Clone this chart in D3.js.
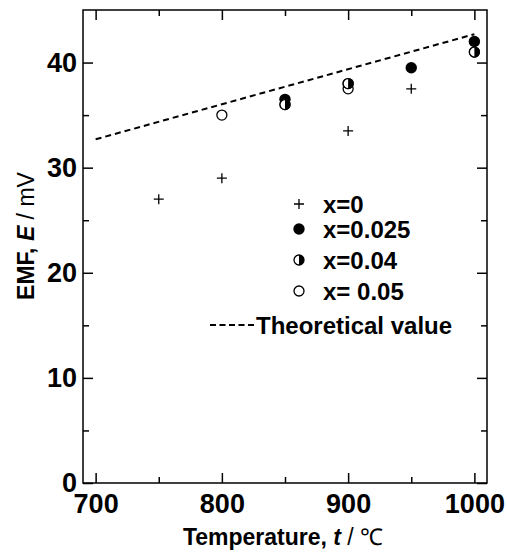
<!DOCTYPE html>
<html>
<head>
<meta charset="UTF-8">
<script src="https://d3js.org/d3.v7.min.js"></script>
<style>
  body { margin: 0; background: #fff; }
  svg { font-family: Arial, "Liberation Sans", sans-serif; }
  .axis path, .axis line { stroke: #000; stroke-width: 1.5; }
  .axis text { font-size: 27px; font-weight: bold; fill: #000; }
</style>
</head>
<body>
<div id="chart"></div>
<script>
// data
const tempX0 = [750, 800, 900, 950];
const emfX0 = [27, 29, 33.5, 37.5];
const tempX025 = [850, 900, 950, 1000];
const emfX025 = [36.5, 38, 39.5, 42];
const tempX04 = [850, 900, 1000];
const emfX04 = [36, 38, 41];
const tempX05 = [800, 850, 900, 1000];
const emfX05 = [35, 36, 37.5, 41];
const tempTheory = [700, 1000];
const emfTheory = [32.7, 42.7];
const xTicks = [700, 800, 900, 1000];
const xMinor = [750, 850, 950];
const yTicks = [0, 10, 20, 30, 40];
const yMinor = [5, 15, 25, 35];

const W = 507, H = 553;
const margin = {top: 10, right: 20, bottom: 70, left: 83};
const width = W - margin.left - margin.right,
      height = H - margin.top - margin.bottom;

const svg = d3.select("#chart").append("svg")
    .attr("width", W).attr("height", H);
const g = svg.append("g")
    .attr("transform", `translate(${margin.left},${margin.top})`);

const x = d3.scaleLinear().domain([690, 1010]).range([0, width]);
const y = d3.scaleLinear().domain([0, 45]).range([height, 0]);

// frame
g.append("rect").attr("width", width).attr("height", height)
    .attr("fill", "none").attr("stroke", "#000").attr("stroke-width", 1.5);

// axes, ticks pointing inward
function addAxis(axis, transform) {
    const a = g.append("g").attr("class", "axis").attr("transform", transform || null).call(axis);
    a.select(".domain").remove();
    return a;
}
addAxis(d3.axisBottom(x).tickValues(xTicks).tickSize(-10).tickPadding(11).tickFormat(d3.format("d")), `translate(0,${height})`);
addAxis(d3.axisBottom(x).tickValues(xMinor).tickSize(-6).tickFormat(""), `translate(0,${height})`);
addAxis(d3.axisTop(x).tickValues(xTicks).tickSize(-10).tickFormat(""));
addAxis(d3.axisTop(x).tickValues(xMinor).tickSize(-6).tickFormat(""));
addAxis(d3.axisLeft(y).tickValues(yTicks).tickSize(-10).tickPadding(6));
addAxis(d3.axisLeft(y).tickValues(yMinor).tickSize(-6).tickFormat(""));
addAxis(d3.axisRight(y).tickValues(yTicks).tickSize(-10).tickFormat(""), `translate(${width},0)`);
addAxis(d3.axisRight(y).tickValues(yMinor).tickSize(-6).tickFormat(""), `translate(${width},0)`);

// theoretical line
const line = d3.line().x(d => x(d[0])).y(d => y(d[1]));
g.append("path")
    .datum(d3.zip(tempTheory, emfTheory))
    .attr("d", line)
    .attr("fill", "none").attr("stroke", "#000")
    .attr("stroke-width", 2).attr("stroke-dasharray", "6,4");

// marker helpers
function plus(sel, cx, cy) {
    sel.append("path")
        .attr("d", `M${cx - 5},${cy}H${cx + 5}M${cx},${cy - 5}V${cy + 5}`)
        .attr("stroke", "#000").attr("stroke-width", 1.3);
}
function filled(sel, cx, cy) {
    sel.append("circle").attr("cx", cx).attr("cy", cy).attr("r", 5.7).attr("fill", "#000");
}
function open(sel, cx, cy) {
    sel.append("circle").attr("cx", cx).attr("cy", cy).attr("r", 5)
        .attr("fill", "#fff").attr("stroke", "#000").attr("stroke-width", 1.3);
}
function half(sel, cx, cy) {
    open(sel, cx, cy);
    sel.append("path")
        .attr("d", `M${cx},${cy - 5}A5,5 0 0 1 ${cx},${cy + 5}Z`)
        .attr("fill", "#000");
}

const pts = g.append("g");
d3.zip(tempX0, emfX0).forEach(d => plus(pts, x(d[0]), y(d[1])));
d3.zip(tempX05, emfX05).forEach(d => open(pts, x(d[0]), y(d[1])));
d3.zip(tempX025, emfX025).forEach(d => filled(pts, x(d[0]), y(d[1])));
d3.zip(tempX04, emfX04).forEach(d => half(pts, x(d[0]), y(d[1])));

// legend
const leg = svg.append("g");
const legRows = [
    {label: "x=0", cy: 204, draw: plus},
    {label: "x=0.025", cy: 229, draw: filled},
    {label: "x=0.04", cy: 260, draw: half},
    {label: "x= 0.05", cy: 291, draw: open}
];
legRows.forEach(r => {
    r.draw(leg, 299, r.cy);
    leg.append("text").attr("x", 323).attr("y", r.cy + 8.5)
        .attr("font-size", 24).attr("font-weight", "bold").text(r.label);
});
leg.append("line").attr("x1", 210).attr("x2", 256).attr("y1", 325).attr("y2", 325)
    .attr("stroke", "#000").attr("stroke-width", 2).attr("stroke-dasharray", "6,3.5");
leg.append("text").attr("x", 256).attr("y", 334)
    .attr("font-size", 24).attr("font-weight", "bold").text("Theoretical value");

// axis titles
const xt = svg.append("text").attr("x", 283).attr("y", 545)
    .attr("text-anchor", "middle").attr("font-size", 23).attr("font-weight", "bold");
xt.append("tspan").text("Temperature, ");
xt.append("tspan").attr("font-style", "italic").text("t");
xt.append("tspan").attr("font-weight", "normal").text(" / ℃");

const yt = svg.append("text")
    .attr("transform", "translate(34,236) rotate(-90)")
    .attr("text-anchor", "middle").attr("font-size", 23).attr("font-weight", "bold");
yt.append("tspan").text("EMF, ");
yt.append("tspan").attr("font-style", "italic").text("E");
yt.append("tspan").attr("font-weight", "normal").text(" / mV");
</script>
</body>
</html>
